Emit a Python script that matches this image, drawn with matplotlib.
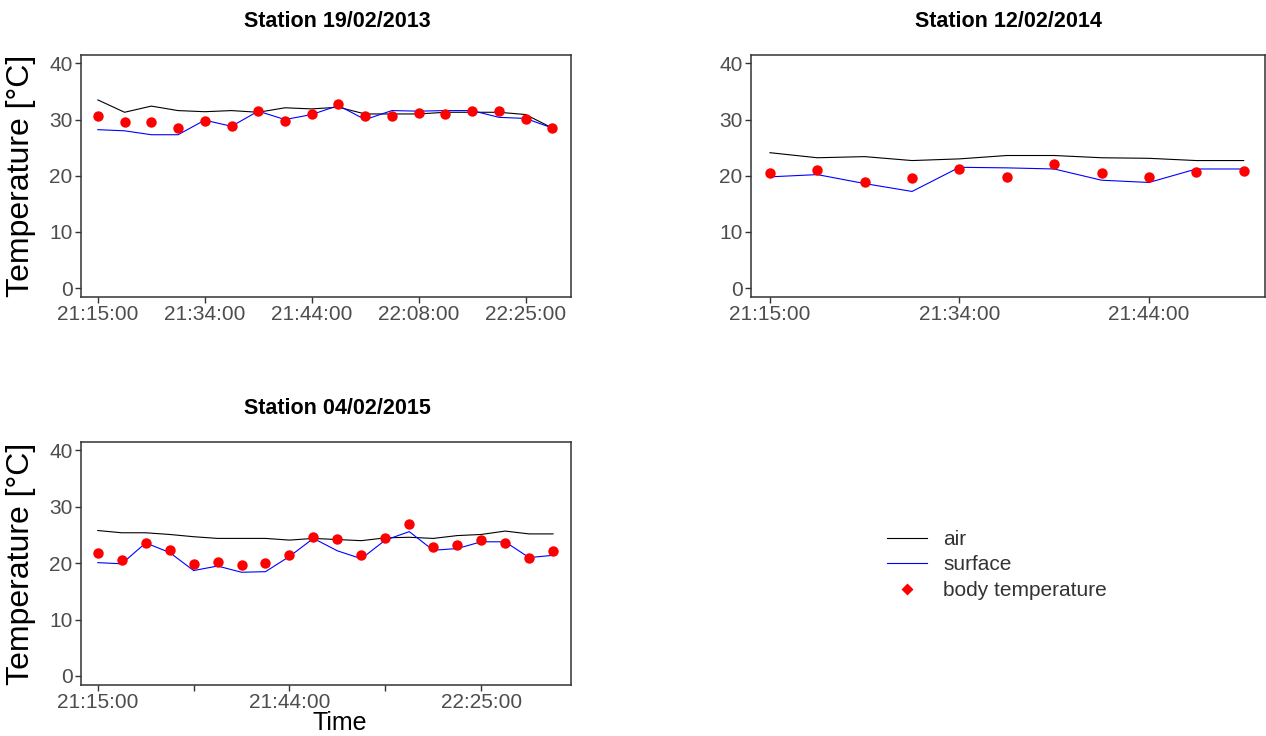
import matplotlib.pyplot as plt
from matplotlib.lines import Line2D

plt.rcParams['font.family'] = ['Liberation Sans', 'DejaVu Sans']

# station 19/02/2013
air_2013 = [33.5, 31.3, 32.4, 31.6, 31.4, 31.6, 31.3, 32.1, 31.9, 32.2,
            31.0, 31.0, 31.0, 31.3, 31.3, 31.3, 30.9, 28.5]
surface_2013 = [28.2, 28.0, 27.3, 27.3, 29.9, 28.8, 31.5, 30.0, 30.9, 32.5,
                30.0, 31.6, 31.5, 31.6, 31.6, 30.4, 30.2, 28.5]
body_2013 = [30.6, 29.6, 29.6, 28.5, 29.7, 28.9, 31.5, 29.7, 31.0, 32.7,
             30.6, 30.7, 31.2, 31.0, 31.5, 31.5, 30.1, 28.5]
ticks_2013 = [0, 4, 8, 12, 16]
labels_2013 = ['21:15:00', '21:34:00', '21:44:00', '22:08:00', '22:25:00']

# station 12/02/2014
air_2014 = [24.1, 23.2, 23.4, 22.7, 23.0, 23.6, 23.6, 23.2, 23.1, 22.7, 22.7]
surface_2014 = [19.8, 20.2, 18.6, 17.2, 21.5, 21.4, 21.2, 19.2, 18.8, 21.2, 21.2]
body_2014 = [20.4, 21.1, 18.8, 19.6, 21.2, 19.8, 22.0, 20.4, 19.8, 20.7, 20.8]
ticks_2014 = [0, 4, 8]
labels_2014 = ['21:15:00', '21:34:00', '21:44:00']

# station 04/02/2015
air_2015 = [25.8, 25.4, 25.4, 25.1, 24.7, 24.4, 24.4, 24.4, 24.1, 24.4,
            24.2, 24.0, 24.5, 24.6, 24.4, 24.9, 25.1, 25.7, 25.2, 25.2]
surface_2015 = [20.1, 19.9, 23.6, 21.9, 18.7, 19.5, 18.4, 18.5, 21.2, 24.4,
                22.2, 20.8, 24.1, 25.6, 22.3, 22.6, 23.8, 23.8, 21.0, 21.4]
body_2015 = [21.8, 20.6, 23.6, 22.3, 19.8, 20.3, 19.6, 20.0, 21.5, 24.7,
             24.3, 21.5, 24.5, 26.9, 22.9, 23.2, 24.1, 23.6, 20.9, 22.2]
ticks_2015 = [0, 4, 8, 12, 16]
labels_2015 = ['21:15:00', '', '21:44:00', '', '22:25:00']

W, H = 1266, 736
fig = plt.figure(figsize=(W / 100, H / 100), dpi=100)


def px_axes(left, top, right, bottom):
    return fig.add_axes([left / W, 1 - bottom / H, (right - left) / W, (bottom - top) / H])


def draw_panel(ax, title, air, surface, body, ticks, labels, xlim, title_x):
    x = range(len(air))
    ax.plot(x, air, color='black', lw=0.8)
    ax.plot(x, surface, color='#0000ff', lw=0.8)
    ax.plot(x, body, 'o', color='#ff0000', ms=7.5, mec='none')
    ax.set_xlim(*xlim)
    ax.set_ylim(-1.6, 41.5)
    ax.set_yticks([0, 10, 20, 30, 40])
    ax.set_xticks(ticks)
    ax.set_xticklabels(labels)
    ax.tick_params(labelsize=15, labelcolor='#4d4d4d', color='#333333',
                   length=4, width=1, pad=2)
    for sp in ax.spines.values():
        sp.set_color('#333333')
        sp.set_linewidth(1.1)
    ax.set_title(title, fontsize=15.5, fontweight='bold', x=title_x, pad=20)
    ax.set_ylabel('Temperature [°C]', fontsize=23, color='black')
    ax.yaxis.set_label_coords(-0.092, 0.5)


ax1 = px_axes(81, 55, 571, 297)
draw_panel(ax1, 'Station 19/02/2013', air_2013, surface_2013, body_2013,
           ticks_2013, labels_2013, (-0.63, 17.7), 0.524)

ax2 = px_axes(751, 55, 1265, 297)
draw_panel(ax2, 'Station 12/02/2014', air_2014, surface_2014, body_2014,
           ticks_2014, labels_2014, (-0.4, 10.45), 0.5)
ax2.set_ylabel('')

ax3 = px_axes(81, 442, 571, 685)
draw_panel(ax3, 'Station 04/02/2015', air_2015, surface_2015, body_2015,
           ticks_2015, labels_2015, (-0.7, 19.75), 0.524)
ax3.set_xlabel('Time', fontsize=18, labelpad=0)
ax3.xaxis.set_label_coords(0.528, -0.105)
ax3.xaxis.label.set_va('top')

handles = [
    Line2D([], [], color='black', lw=0.8),
    Line2D([], [], color='#0000ff', lw=0.8),
    Line2D([], [], ls='none', marker='D', color='#ff0000', ms=6, mec='none'),
]
fig.legend(handles, ['air', 'surface', 'body temperature'],
           loc='center left', bbox_to_anchor=(887 / W, 1 - 565 / H),
           frameon=False, fontsize=15, handlelength=1.9, handletextpad=0.8,
           labelspacing=0.32, borderpad=0, borderaxespad=0,
           labelcolor='#333333')

fig.savefig('out.png', dpi=100)
